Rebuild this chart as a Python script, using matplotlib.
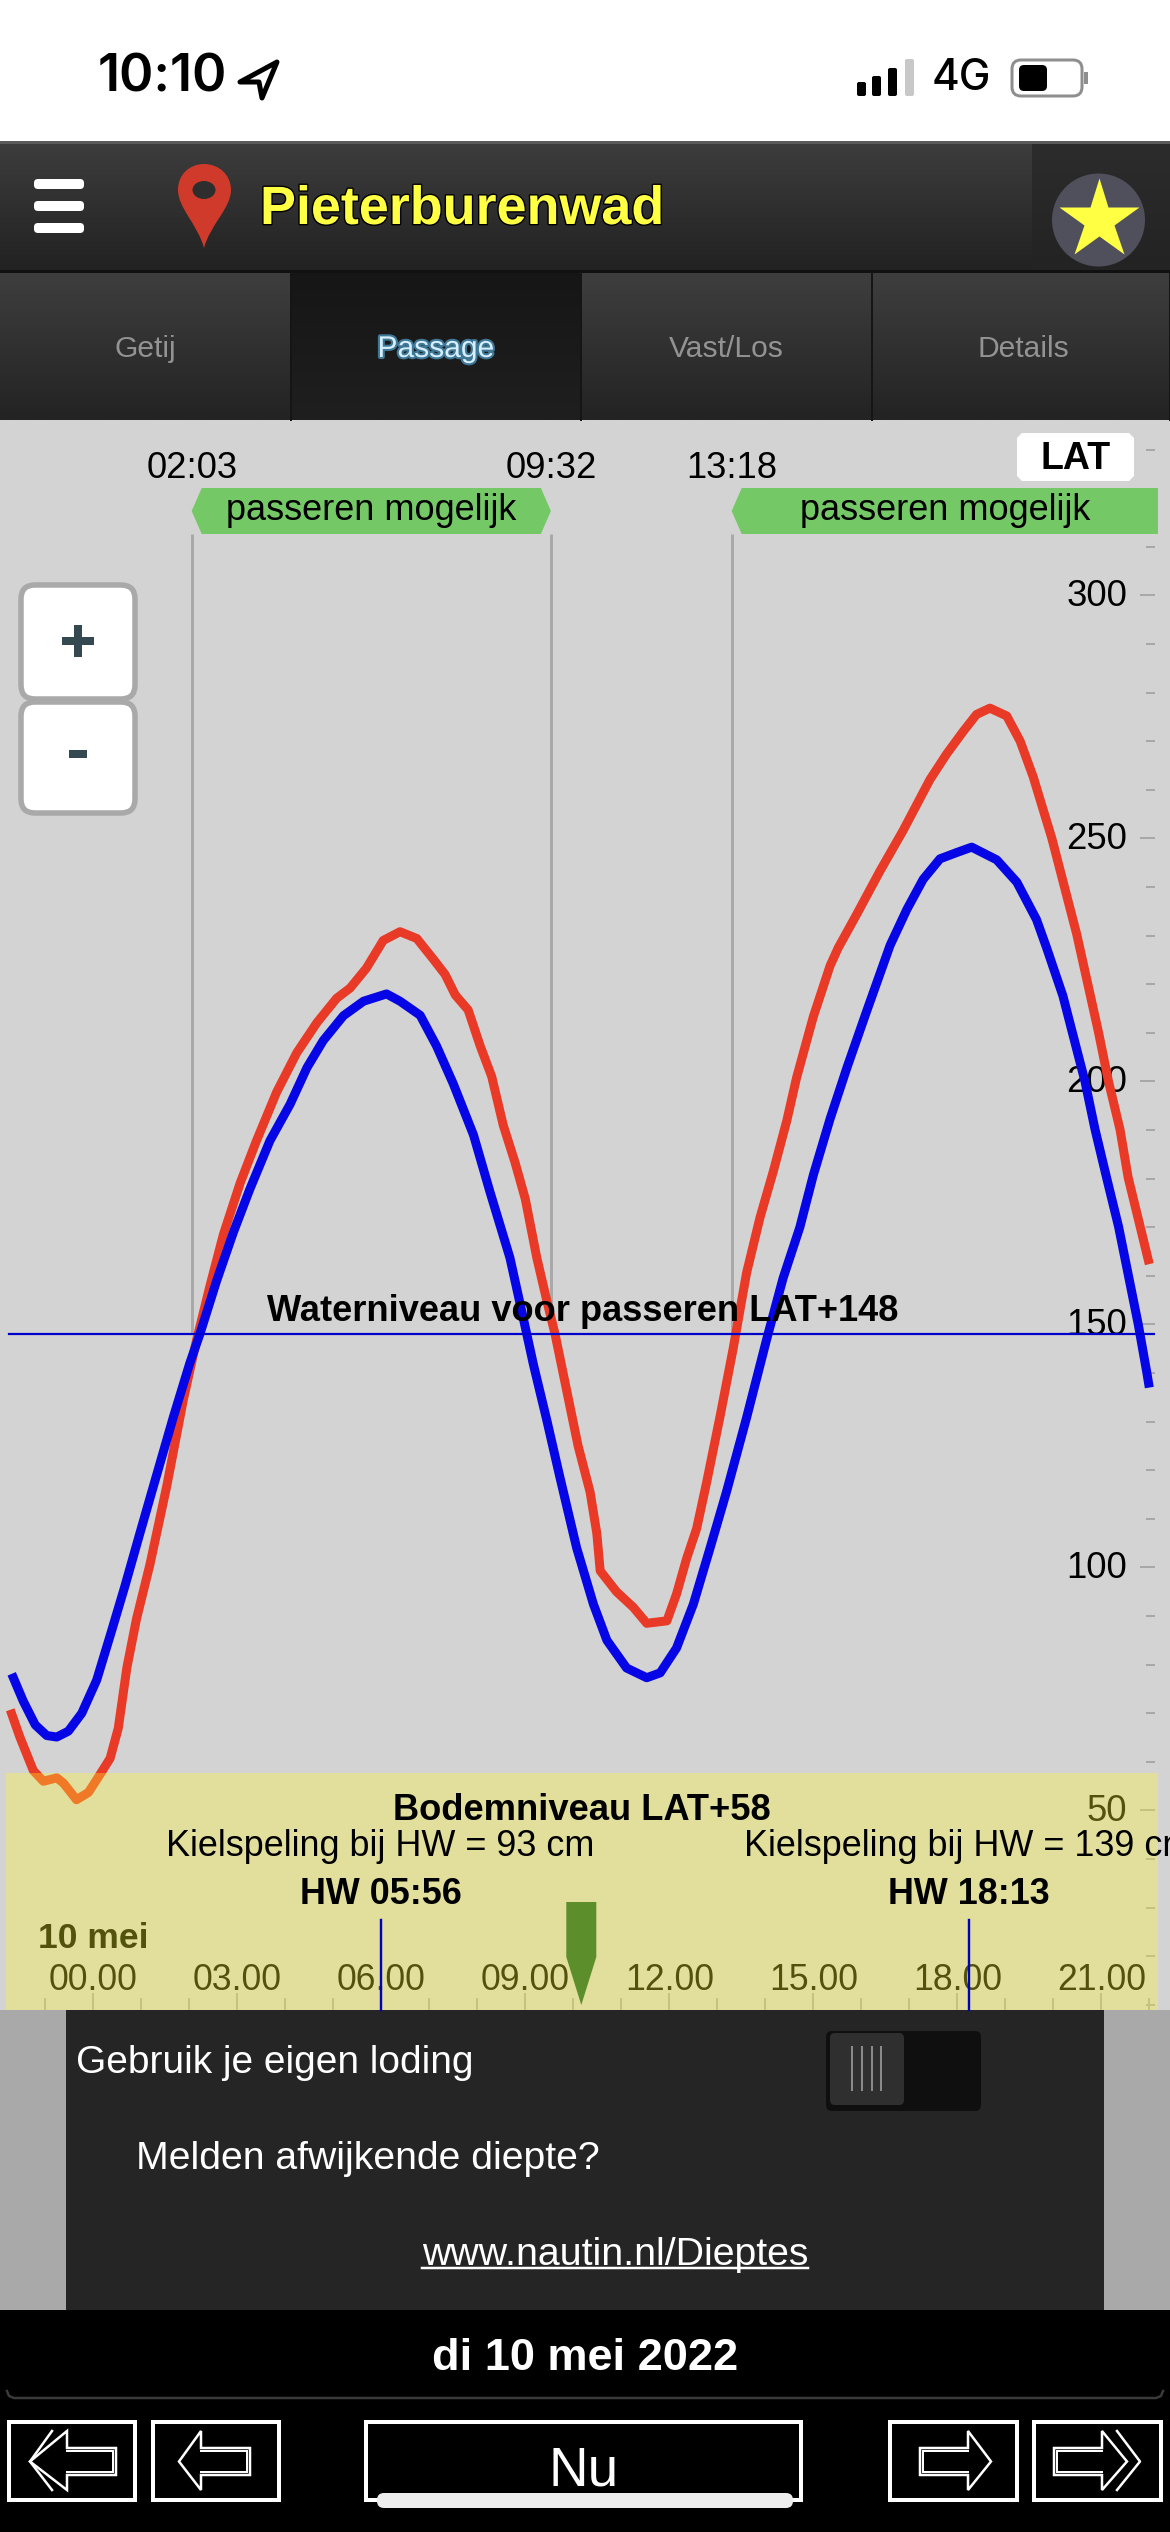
import numpy as np
import matplotlib
matplotlib.use("Agg")
import matplotlib.pyplot as plt
import matplotlib.patheffects as pe
from matplotlib.patches import Circle, Ellipse, FancyBboxPatch, PathPatch, Polygon, Rectangle
from matplotlib.path import Path
from matplotlib.transforms import ScaledTranslation

plt.rcParams['font.family'] = ['Liberation Sans', 'DejaVu Sans']

# Tide curves (hours since midnight, cm above LAT)
RED_HOURS = [-1.73, -1.53, -1.25, -1.04, -0.76, -0.62, -0.35, -0.10, 0.14, 0.35, 0.52, 0.70, 0.90, 1.18,
             1.53, 1.87, 2.15, 2.43, 2.71, 3.06, 3.40, 3.82, 4.24, 4.66, 5.07, 5.35, 5.69, 6.04, 6.39,
             6.74, 7.08, 7.33, 7.54, 7.81, 8.06, 8.30, 8.54, 8.79, 9.00, 9.24, 9.45, 9.62, 9.86, 10.10,
             10.35, 10.49, 10.56, 10.90, 11.25, 11.53, 11.95, 12.15, 12.36, 12.57, 12.78, 13.06, 13.33,
             13.61, 13.89, 14.17, 14.45, 14.65, 15.00, 15.35, 15.52, 15.90, 16.39, 16.87, 17.43, 17.78,
             18.13, 18.40, 18.68, 19.03, 19.31, 19.58, 19.97, 20.49, 20.94, 21.15, 21.39, 21.56, 21.81, 22.00]
RED_LEVEL = [70.7, 65.1, 58.2, 56.0, 56.7, 55.6, 52.2, 53.7, 57.4, 60.7, 66.9, 79.4, 89.4, 100.6,
             116.7, 134.2, 146.7, 157.9, 168.5, 179.1, 187.8, 197.8, 205.9, 212.1, 217.1, 219.2, 223.3, 229.0, 230.8,
             229.4, 225.2, 222.0, 217.8, 214.7, 207.3, 201.0, 191.0, 183.2, 175.8, 163.7, 154.8, 148.0, 136.5, 125.0,
             115.5, 107.0, 99.3, 95.0, 91.8, 88.5, 89.0, 94.5, 101.8, 108.0, 117.6, 131.2, 145.0,
             160.6, 172.0, 181.6, 192.0, 200.7, 213.3, 223.8, 227.5, 234.3, 243.3, 251.6, 262.1, 267.4,
             272.1, 275.5, 276.8, 275.2, 270.0, 262.7, 250.0, 230.2, 210.2, 200.0, 190.1, 180.2, 170.1, 162.4]
BLUE_HOURS = [-1.70, -1.46, -1.21, -0.97, -0.76, -0.52, -0.24, 0.07, 0.38, 0.66, 0.97, 1.29, 1.67, 2.01, 2.22,
              2.57, 2.92, 3.26, 3.68, 4.10, 4.45, 4.79, 5.21, 5.63, 6.11, 6.39, 6.81, 7.15, 7.50, 7.92,
              8.26, 8.68, 8.96, 9.17, 9.45, 9.72, 10.07, 10.42, 10.70, 11.11, 11.53, 11.81, 12.15, 12.50,
              12.85, 13.19, 13.61, 14.03, 14.37, 14.72, 15.00, 15.35, 15.70, 16.11, 16.60, 16.95, 17.29,
              17.64, 17.99, 18.30, 18.82, 19.24, 19.65, 19.86, 20.20, 20.66, 20.87, 21.11, 21.36, 21.56, 21.77, 21.95, 22.00]
BLUE_LEVEL = [78.1, 72.5, 67.6, 65.4, 65.1, 66.3, 70.0, 76.8, 86.9, 96.2, 107.0, 118.0, 131.0, 142.0, 148.0,
              159.0, 169.0, 177.8, 187.8, 195.3, 202.8, 208.4, 213.5, 216.5, 218.0, 216.5, 213.6, 207.3, 199.5, 189.0,
              177.4, 163.7, 151.2, 141.7, 130.2, 118.6, 104.0, 92.4, 85.0, 79.3, 77.3, 78.3, 83.4, 92.4,
              104.0, 115.5, 130.8, 147.0, 159.5, 170.0, 180.7, 192.3, 202.8, 214.4, 228.0, 235.4, 241.6,
              245.8, 247.1, 248.2, 245.6, 241.0, 233.3, 227.5, 217.6, 200.0, 190.1, 180.2, 170.1, 160.3, 150.0, 140.0, 137.0]

PASS_LEVEL = 148
BOTTOM_LEVEL = 58
PASS_TIMES = [2 + 3 / 60, 9 + 32 / 60, 13 + 18 / 60]
PASS_LABELS = ["02:03", "09:32", "13:18"]
HW_HOURS = [5.985, 18.235]  # where the marker lines sit on the axis
HW_LABELS = ["HW 05:56", "HW 18:13"]
KEEL_LABELS = ["Kielspeling bij HW = 93 cm", "Kielspeling bij HW = 139 cm"]
NOW_HOUR = 10 + 10 / 60

HOUR_TICKS = [0, 3, 6, 9, 12, 15, 18, 21]
HOUR_LABELS = ["00.00", "03.00", "06.00", "09.00", "12.00", "15.00", "18.00", "21.00"]
MINOR_HOURS = list(range(-1, 23))
LEVEL_TICKS = [50, 100, 150, 200, 250, 300]
MINOR_LEVELS = list(range(0, 340, 10))
TABS = ["Getij", "Passage", "Vast/Los", "Details"]

# Screen layout in pixels
W, H = 1170, 2532
HOUR_X0, HOUR_PX = 93.3, 48.0
LEVEL_Y300, LEVEL_PX = 595.4, 4.86
CHART_TOP, CHART_BOTTOM, PANEL_BOTTOM, CHART_RIGHT, AXES_BOTTOM = 420, 2010, 2310, 1155, 2060


def px(v):
    """pixels to points at dpi 100"""
    return v * 0.72


def hour_x(h):
    return HOUR_X0 + HOUR_PX * h


def level_at(y):
    return 300 - (y - LEVEL_Y300) / LEVEL_PX


def overlay(z):
    ax = fig.add_axes([0, 0, 1, 1], zorder=z)
    ax.set_xlim(0, W)
    ax.set_ylim(H, 0)
    ax.axis('off')
    return ax


def gradient(ax, x0, x1, y0, y1, top, bottom):
    c0 = np.array(matplotlib.colors.to_rgb(top))
    c1 = np.array(matplotlib.colors.to_rgb(bottom))
    t = np.linspace(0, 1, 64)[:, None, None]
    ax.imshow(c0[None, None, :] * (1 - t) + c1[None, None, :] * t, extent=(x0, x1, y1, y0), aspect='auto', zorder=1)


def rbox(ax, x0, y0, x1, y1, r, **kw):
    ax.add_patch(FancyBboxPatch((x0 + r, y0 + r), x1 - x0 - 2 * r, y1 - y0 - 2 * r,
                                boxstyle=f"round,pad={r},rounding_size={r}", **kw))


def arrow(ax, tail, base, tip, second=None):
    # outline arrow, pointing left or right depending on tail/tip
    yc = 2461.5
    pts = [(tail, 2448), (base, 2448), (base, 2431), (tip, yc), (base, 2490), (base, 2475), (tail, 2475)]
    ax.add_patch(Polygon(pts, closed=True, fill=False, ec='white', lw=px(2.5), zorder=5))
    step = 3 if tip > tail else -3
    ax.plot([tail + step, tail + step], [2451, 2472], color='white', lw=px(2), zorder=5)
    ax.plot([tail + step, base], [2451, 2451], color='white', lw=px(2), zorder=5)
    ax.plot([tail + step, base], [2472, 2472], color='white', lw=px(2), zorder=5)
    if second is not None:
        ax.plot([second[0], second[1], second[0]], [2431, yc, 2490], color='white', lw=px(2.5), zorder=5)


fig = plt.figure(figsize=(W / 100, H / 100), dpi=100, facecolor='white')

# ---- background layer
back = overlay(0)
back.add_patch(Rectangle((0, CHART_TOP), W, CHART_BOTTOM - CHART_TOP, fc='#d3d3d3', ec='none'))
back.add_patch(Rectangle((0, CHART_BOTTOM), W, PANEL_BOTTOM - CHART_BOTTOM, fc='#a9a9a9', ec='none'))

# ---- chart layer
ax = fig.add_axes([0, 1 - AXES_BOTTOM / H, CHART_RIGHT / W, (AXES_BOTTOM - CHART_TOP) / H], zorder=1)
ax.patch.set_visible(False)
ax.set_xlim((0 - HOUR_X0) / HOUR_PX, (CHART_RIGHT - HOUR_X0) / HOUR_PX)
ax.set_ylim(level_at(AXES_BOTTOM), level_at(CHART_TOP))
for name in ['left', 'top', 'right']:
    ax.spines[name].set_visible(False)
ax.spines['bottom'].set_position(('data', level_at(CHART_BOTTOM)))
ax.spines['bottom'].set_visible(False)

ax.set_xticks(HOUR_TICKS)
ax.set_xticklabels(HOUR_LABELS)
ax.set_xticks(MINOR_HOURS, minor=True)
ax.set_yticks(LEVEL_TICKS)
ax.set_yticks(MINOR_LEVELS, minor=True)
ax.tick_params(axis='x', which='major', direction='in', length=px(17), width=px(2), color='#a8a8a8',
               labelsize=25.7, labelcolor='black', pad=-px(47))
ax.tick_params(axis='x', which='minor', direction='in', length=px(12), width=px(2), color='#a8a8a8')
ax.tick_params(axis='y', which='major', direction='in', length=px(15), width=px(2), color='#a8a8a8',
               left=False, right=True, labelleft=False, labelright=True, labelsize=26.3, pad=-px(28))
ax.tick_params(axis='y', which='minor', direction='in', length=px(9), width=px(2), color='#a8a8a8',
               left=False, right=True)
lift = ScaledTranslation(0, 3 / 100, fig.dpi_scale_trans)
for label in ax.get_yticklabels():
    label.set_ha('right')
    label.set_transform(label.get_transform() + lift)

tag_bottom = level_at(534)
ax.vlines(PASS_TIMES, PASS_LEVEL, tag_bottom, color='#a9a9a9', lw=px(3), zorder=2)
ax.plot(RED_HOURS, RED_LEVEL, color='#e83a26', lw=px(9), solid_capstyle='butt', solid_joinstyle='round', zorder=3)
ax.plot(BLUE_HOURS, BLUE_LEVEL, color='#0505e6', lw=px(9), solid_capstyle='butt', solid_joinstyle='round', zorder=4)
ax.plot([(9 - HOUR_X0) / HOUR_PX, (CHART_RIGHT - HOUR_X0) / HOUR_PX], [PASS_LEVEL, PASS_LEVEL],
        color='#0000cc', lw=px(2.2), zorder=5)
ax.text((583 - HOUR_X0) / HOUR_PX, level_at(1311), f"Waterniveau voor passeren LAT+{PASS_LEVEL}",
        ha='center', va='center', fontsize=26.1, fontweight='bold', zorder=6)
ax.text((38 - HOUR_X0) / HOUR_PX, level_at(1939), "10 mei", ha='left', va='center', fontsize=25.5,
        fontweight='bold', color='black', zorder=6)

# ---- yellow band sits over the chart and tints it
band = overlay(2)
band.add_patch(Rectangle((6, 1773), 1152, CHART_BOTTOM - 1773, fc=(1.0, 0.98, 0.16), alpha=0.33, ec='none'))

# ---- everything else
ui = overlay(3)

# status bar
ui.text(98, 78, "10:10", ha='left', va='center', fontsize=37.5, family=['Inter', 'Liberation Sans'], fontweight='semibold')
ui.add_patch(Polygon([(240, 82), (277, 62), (262, 98), (259, 82)], closed=True, fc='none', ec='black', lw=px(5), joinstyle='round'))
for x0, top, col in [(857, 82, 'black'), (872, 76, 'black'), (888, 68, 'black'), (905, 59, '#c8c8c8')]:
    rbox(ui, x0, top, x0 + 9, 96, 2, fc=col, ec='none')
ui.text(961, 78, "4G", ha='center', va='center', fontsize=30.5, family=['Inter', 'Liberation Sans'], fontweight='medium')
rbox(ui, 1012, 60, 1082, 96, 9, fc='white', ec='#8e8e8e', lw=px(3))
rbox(ui, 1019, 65, 1047, 91, 5, fc='black', ec='none')
ui.add_patch(Rectangle((1084, 72), 4, 12, fc='#8e8e8e', ec='none'))

# header bar
gradient(ui, 0, W, 141, 270, '#3d3d3d', '#222222')
gradient(ui, 1032, W, 144, 270, '#2c2c2c', '#232323')
ui.add_patch(Rectangle((0, 141), W, 3, fc='#5a5a5a', ec='none', zorder=2))
ui.add_patch(Rectangle((0, 270), W, 3, fc='#111111', ec='none', zorder=2))
for y in [184, 206, 228]:
    rbox(ui, 34, y - 5, 84, y + 5, 4, fc='white', ec='none', zorder=3)
pin = Path([(204, 248), (198, 225), (178, 208), (178, 190), (178, 174), (190, 164), (204, 164),
            (218, 164), (231, 174), (231, 190), (231, 208), (210, 225), (204, 248)],
           [Path.MOVETO] + [Path.CURVE4] * 12)
ui.add_patch(PathPatch(pin, fc='#d03a2b', ec='none', zorder=3))
ui.add_patch(Ellipse((204, 190), 23, 18, fc='#2e2e2e', ec='none', zorder=4))
ui.text(260, 210, "Pieterburenwad", ha='left', va='center', fontsize=38.8, fontweight='bold', color='#ffff44', zorder=4,
        path_effects=[pe.withStroke(linewidth=2, foreground='black')])
ui.add_patch(Circle((1098.5, 220), 46.5, fc='#50505c', ec='none', zorder=3))
ui.plot([1098.5], [220], marker='*', ms=px(84), mfc='#ffff44', mec='none', zorder=4)

# tabs
tab_edges = [0, 291, 581, 872, W]
for i, label in enumerate(TABS):
    active = label == "Passage"
    top, bottom = ('#161616', '#1f1f1f') if active else ('#3e3e3e', '#232323')
    gradient(ui, tab_edges[i], tab_edges[i + 1], 273, CHART_TOP, top, bottom)
    ui.plot([tab_edges[i + 1]] * 2, [273, CHART_TOP], color='#151515', lw=px(2), zorder=2)
    xc = (tab_edges[i] + tab_edges[i + 1]) / 2 + (2 if i == 3 else 0)
    if active:
        ui.text(xc, 349, label, ha='center', va='center', fontsize=21.6, color='#d6efff', zorder=3,
                path_effects=[pe.withStroke(linewidth=3, foreground='#3f7796')])
    else:
        ui.text(xc, 349, label, ha='center', va='center', fontsize=21.6, color='#939393', zorder=3)

# zoom buttons
rbox(ui, 21, 585, 135, 699, 14, fc='white', ec='#a9a9a9', lw=px(5.5), zorder=3)
rbox(ui, 21, 702, 135, 813, 14, fc='white', ec='#a9a9a9', lw=px(5.5), zorder=3)
ui.add_patch(Rectangle((62, 637), 32, 8, fc='#34494f', ec='none', zorder=4))
ui.add_patch(Rectangle((74, 625), 8, 32, fc='#34494f', ec='none', zorder=4))
ui.add_patch(Rectangle((69, 750), 18, 8, fc='#34494f', ec='none', zorder=4))

# passage tags, LAT tag and time labels
x_a, x_b, x_c = [hour_x(t) for t in PASS_TIMES]
ui.add_patch(Polygon([(x_a + 10, 488), (x_b - 10, 488), (x_b, 511), (x_b - 10, 534), (x_a + 10, 534), (x_a, 511)],
                     closed=True, fc='#74c866', ec='none', zorder=3))
ui.add_patch(Polygon([(x_c + 10, 488), (1158, 488), (1158, 534), (x_c + 10, 534), (x_c, 511)],
                     closed=True, fc='#74c866', ec='none', zorder=3))
ui.text((x_a + x_b) / 2, 511, "passeren mogelijk", ha='center', va='center', fontsize=26, zorder=4)
ui.text((x_c + 1158) / 2, 511, "passeren mogelijk", ha='center', va='center', fontsize=26, zorder=4)
for t, label in zip(PASS_TIMES, PASS_LABELS):
    ui.text(hour_x(t), 468, label, ha='center', va='center', fontsize=26.2, zorder=4)
ui.add_patch(Polygon([(1022, 433), (1129, 433), (1134, 438), (1134, 476), (1129, 481), (1022, 481), (1017, 476), (1017, 438)],
                     closed=True, fc='white', ec='none', zorder=3))
ui.text(1076, 459, "LAT", ha='center', va='center', fontsize=27, fontweight='bold', zorder=4)

# band labels, high water markers, now pointer
ui.text(582, 1810, f"Bodemniveau LAT+{BOTTOM_LEVEL}", ha='center', va='center', fontsize=26.2, fontweight='bold', zorder=4)
for t, label, keel in zip(HW_HOURS, HW_LABELS, KEEL_LABELS):
    x = hour_x(t)
    ui.text(x, 1894, label, ha='center', va='center', fontsize=25.8, fontweight='bold', zorder=4)
    ui.text(x, 1847, keel, ha='center', va='center', fontsize=25.9, zorder=4, clip_on=False)
    ui.plot([x, x], [1920, CHART_BOTTOM], color='#0000c0', lw=px(2.4), zorder=4)
xn = hour_x(NOW_HOUR)
ui.add_patch(Polygon([(xn - 15, 1902), (xn + 15, 1902), (xn + 15, 1957), (xn, 2005), (xn - 15, 1957)],
                     closed=True, fc='#5c8f2b', ec='none', zorder=4))

# dark panel
ui.add_patch(Rectangle((66, CHART_BOTTOM), 1038, PANEL_BOTTOM - CHART_BOTTOM, fc='#252525', ec='none', zorder=3))
ui.text(76, 2063, "Gebruik je eigen loding", ha='left', va='center', fontsize=28, color='white', zorder=4)
ui.text(136, 2159, "Melden afwijkende diepte?", ha='left', va='center', fontsize=28.2, color='white', zorder=4)
ui.text(615, 2255, "www.nautin.nl/Dieptes", ha='center', va='center', fontsize=28.3, color='white', zorder=4)
ui.plot([422, 808], [2268, 2268], color='white', lw=px(2.5), zorder=4)
rbox(ui, 826, 2031, 981, 2111, 6, fc='#0f0f0f', ec='none', zorder=4)
rbox(ui, 830, 2033, 904, 2105, 5, fc='#2f2f2f', ec='none', zorder=5)
for x in [852, 862, 872, 881]:
    ui.plot([x, x], [2047, 2090], color='#8a8a8a', lw=px(2), zorder=6)

# footer
ui.add_patch(Rectangle((0, PANEL_BOTTOM), W, H - PANEL_BOTTOM, fc='black', ec='none', zorder=3))
ui.text(585, 2359, "di 10 mei 2022", ha='center', va='center', fontsize=32.5, fontweight='bold', color='white', zorder=5)
ui.plot([7, 9, 14, 1156, 1161, 1163], [2391, 2396, 2398, 2398, 2396, 2391], color='#3a3a3a', lw=px(2.5), zorder=5)
for x0, x1 in [(9, 135), (153, 279), (366, 801), (890, 1017), (1034, 1161)]:
    ui.add_patch(Rectangle((x0, 2422), x1 - x0, 78, fc='none', ec='white', lw=px(4), zorder=5))
ui.text(584, 2472, "Nu", ha='center', va='center', fontsize=39.5, color='white', zorder=5)
rbox(ui, 377, 2493, 793, 2508, 7, fc='#eeeeee', ec='none', zorder=6)
arrow(ui, 116, 67, 30, second=(52, 30))
arrow(ui, 250, 201, 179)
arrow(ui, 920, 968, 991)
arrow(ui, 1054, 1102, 1127, second=(1117, 1140))

fig.savefig('out.png', dpi=100)
